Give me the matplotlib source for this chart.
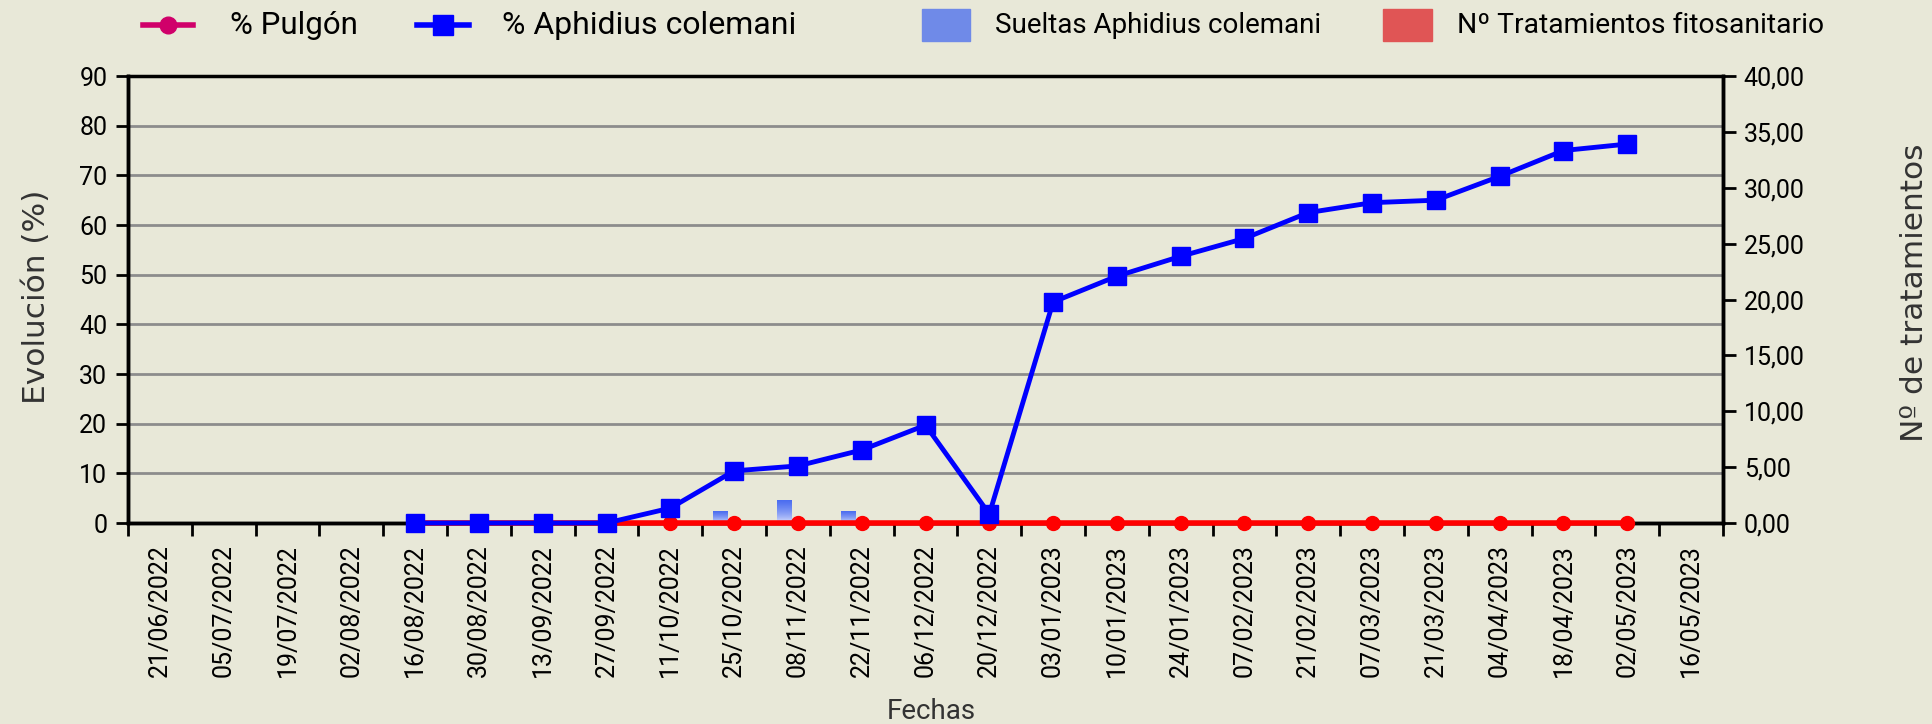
import matplotlib
matplotlib.use("Agg")
import matplotlib.pyplot as plt
import numpy as np
from matplotlib.colors import LinearSegmentedColormap
from matplotlib.lines import Line2D
from matplotlib.patches import Rectangle

plt.rcParams["font.family"] = ["Roboto", "DejaVu Sans"]

# ── data ──
fechas = ["21/06/2022", "05/07/2022", "19/07/2022", "02/08/2022", "16/08/2022",
          "30/08/2022", "13/09/2022", "27/09/2022", "11/10/2022", "25/10/2022",
          "08/11/2022", "22/11/2022", "06/12/2022", "20/12/2022", "03/01/2023",
          "10/01/2023", "24/01/2023", "07/02/2023", "21/02/2023", "07/03/2023",
          "21/03/2023", "04/04/2023", "18/04/2023", "02/05/2023", "16/05/2023"]
nan = np.nan
pulgon = [nan, nan, nan, nan, 0, 0, 0, 0, 0, 0, 0, 0, 0, 0, 0, 0, 0, 0, 0, 0,
          0, 0, 0, 0, nan]
aphidius = [nan, nan, nan, nan, 0, 0, 0, 0, 3, 10.5, 11.5, 14.7, 19.7, 1.8,
            44.5, 49.7, 53.7, 57.3, 62.5, 64.5, 65, 69.8, 75, 76.3, nan]
sueltas = [0, 0, 0, 0, 0, 0, 0, 0, 0, 1, 2, 1, 0, 0, 0, 0, 0, 0, 0, 0,
           0, 0, 0, 0, 0]
tratamientos = [0, 0, 0, 0, 0, 0, 0, 0, 0, 0, 0, 0, 0, 1, 0, 0, 0, 0, 0, 0,
                0, 0, 0, 0, 0]

BG = "#e8e8d8"
BLUE_BAR = "#4a6cf0"
RED_BAR = "#e84040"

x = np.arange(len(fechas))

fig = plt.figure(figsize=(19.32, 7.24), dpi=100, facecolor=BG)
ax = fig.add_axes([0.0663, 0.2776, 0.8255, 0.6174])
ax2 = ax.twinx()
ax.set_zorder(ax2.get_zorder() + 1)
ax.patch.set_visible(False)
ax2.patch.set_facecolor("white")


def gradient_bars(axis, xs, heights, width, color):
    # Excel-like fill: solid colour at the top fading to white at the base
    cmap = LinearSegmentedColormap.from_list("g", ["white", color])
    grad = (np.linspace(0, 1, 64) ** 0.5).reshape(-1, 1)
    for xi, h in zip(xs, heights):
        if h <= 0:
            continue
        axis.imshow(grad, cmap=cmap, origin="lower", aspect="auto", vmin=0, vmax=1,
                    extent=[xi - width / 2, xi + width / 2, 0, h], zorder=2)


bw = 0.22
gradient_bars(ax2, x - 0.22, sueltas, bw, BLUE_BAR)
gradient_bars(ax2, x, tratamientos, bw, RED_BAR)
ax2.set_ylim(0, 40)
ax2.set_xlim(-0.5, len(fechas) - 0.5)
ax2.set_yticks(np.arange(0, 41, 5))
ax2.set_yticklabels([f"{v:.2f}".replace(".", ",") for v in np.arange(0, 41, 5)])

# lines
ax.plot(x, pulgon, color="#ff0000", lw=4, marker="o", ms=10, zorder=3, clip_on=False)
ax.plot(x, aphidius, color="#0000ff", lw=3.5, marker="s", ms=13, zorder=4, clip_on=False)

ax.set_ylim(0, 90)
ax.set_xlim(-0.5, len(fechas) - 0.5)
ax.set_yticks(np.arange(0, 91, 10))
for v in np.arange(10, 81, 10):
    ax2.axhline(v * 40 / 90, color="#8c8c8c", lw=2, zorder=1)

ax.set_xticks(np.arange(-0.5, len(fechas)), minor=False)
ax.set_xticklabels([])
ax.set_xticks(x, minor=True)
ax.set_xticklabels(fechas, minor=True, rotation=90, fontsize=18)
ax.tick_params(axis="x", which="major", length=9, width=2, direction="out")
ax.tick_params(axis="x", which="minor", length=0, pad=15)
ax.tick_params(axis="y", length=9, width=2, labelsize=18, pad=6)
ax2.tick_params(axis="y", length=9, width=2, labelsize=18, pad=6)

for a in (ax, ax2):
    for s in a.spines.values():
        s.set_linewidth(2.5)
    a.spines["top"].set_visible(False)
ax.axhline(90, color="black", lw=2.5, zorder=5, clip_on=False)

# axis titles
fig.text(0.019, 0.59, "Evolución (%)", rotation=90, ha="center", va="center",
         fontsize=22.5, color="#333333", family="DejaVu Sans")
fig.text(0.991, 0.595, "Nº de tratamientos", rotation=90, ha="center", va="center",
         fontsize=22.5, color="#333333", family="DejaVu Sans")
fig.text(0.482, 0.017, "Fechas", ha="center", va="center", fontsize=20, color="#333333")

# legend drawn in figure coords
ly = 0.965
fig.add_artist(Line2D([0.074, 0.100], [ly, ly], color="#d0006a", lw=4,
                      transform=fig.transFigure))
fig.add_artist(Line2D([0.087], [ly], color="#d0006a", marker="o", ms=12,
                      transform=fig.transFigure))
fig.text(0.119, ly, "% Pulgón", va="center", fontsize=22.5)
fig.add_artist(Line2D([0.216, 0.243], [ly, ly], color="#0000ff", lw=4,
                      transform=fig.transFigure))
fig.add_artist(Line2D([0.2295], [ly], color="#0000ff", marker="s", ms=14,
                      transform=fig.transFigure))
fig.text(0.260, ly, "% Aphidius colemani", va="center", fontsize=23)
fig.add_artist(Rectangle((0.477, ly - 0.022), 0.025, 0.044, color="#6f8ae8",
                         transform=fig.transFigure))
fig.text(0.515, ly, "Sueltas Aphidius colemani", va="center", fontsize=20)
fig.add_artist(Rectangle((0.716, ly - 0.022), 0.025, 0.044, color="#e05555",
                         transform=fig.transFigure))
fig.text(0.754, ly, "Nº Tratamientos fitosanitario", va="center", fontsize=20.3)

fig.savefig("out.png", dpi=100, facecolor=BG)
